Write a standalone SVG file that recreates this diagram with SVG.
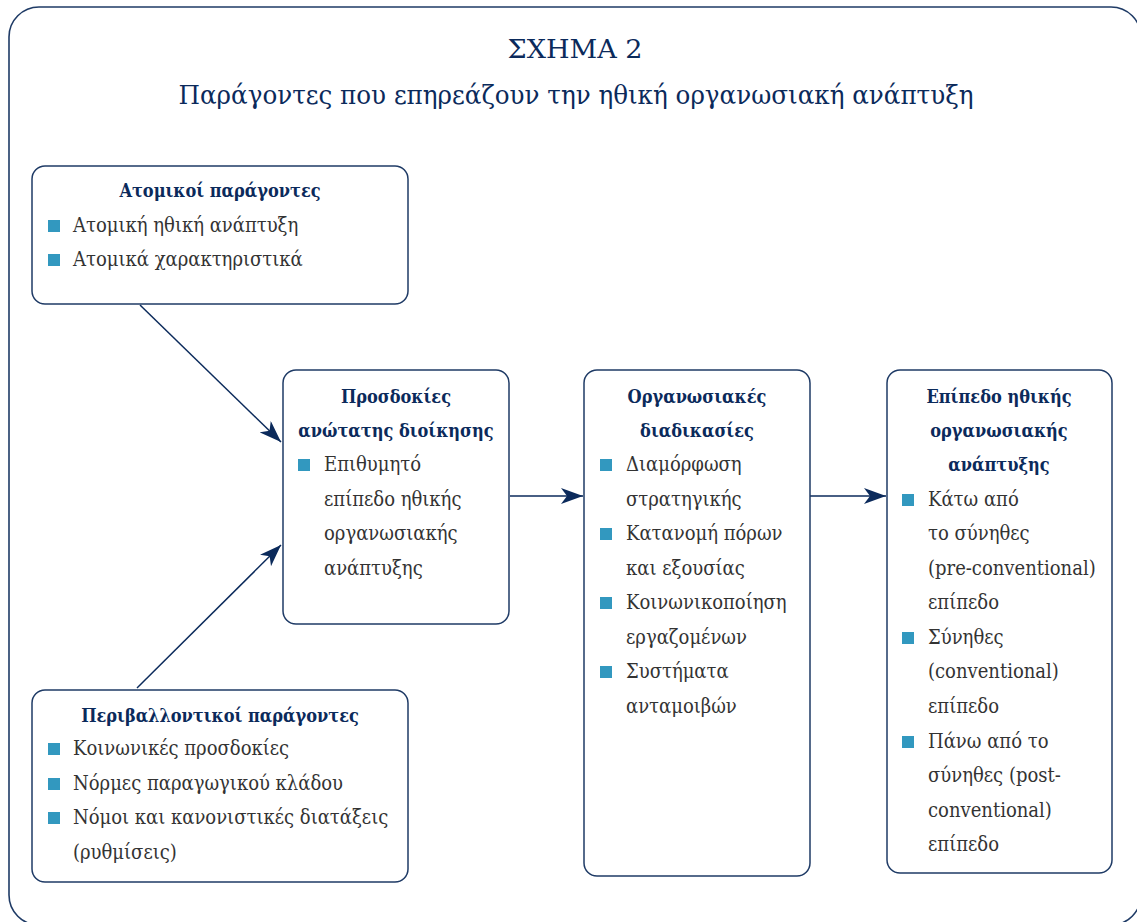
<svg xmlns="http://www.w3.org/2000/svg" width="1137" height="922" viewBox="0 0 1137 922">
<style>
.frame{fill:#fff;stroke:#1f3b66;stroke-width:1.6}
.box{fill:#fff;stroke:#1f3b66;stroke-width:1.5}
.title{font-family:"DejaVu Serif Condensed","DejaVu Serif",serif;font-stretch:condensed;fill:#0b2a5b;text-anchor:middle}
.head{font-family:"DejaVu Serif Condensed","DejaVu Serif",serif;font-stretch:condensed;font-weight:bold;font-size:18px;fill:#0b2a5b;text-anchor:middle}
.txt{font-family:"DejaVu Serif Condensed","DejaVu Serif",serif;font-stretch:condensed;font-size:20px;fill:#333}
.bul{fill:#3298bf}
.con{stroke:#0b2a5b;stroke-width:1.5;fill:none}
</style>
<defs>
<marker id="ah" markerWidth="24" markerHeight="16" refX="22" refY="8" orient="auto" markerUnits="userSpaceOnUse">
<path d="M0,0 L22,8 L0,16 L6,8 Z" fill="#0b2a5b"/>
</marker>
</defs>
<rect width="1137" height="922" fill="#fff"/>
<rect class="frame" x="9" y="7" width="1132" height="918" rx="30" ry="30"/>
<text class="title" x="575" y="58" font-size="26" textLength="135" lengthAdjust="spacingAndGlyphs">ΣΧΗΜΑ 2</text>
<text class="title" x="576" y="104" font-size="26" textLength="795" lengthAdjust="spacingAndGlyphs">Παράγοντες που επηρεάζουν την ηθική οργανωσιακή ανάπτυξη</text>

<g id="connectors">
<line class="con" x1="140" y1="305" x2="281" y2="442" marker-end="url(#ah)"/>
<line class="con" x1="137" y1="688" x2="281" y2="545" marker-end="url(#ah)"/>
<line class="con" x1="510" y1="496" x2="583" y2="496" marker-end="url(#ah)"/>
<line class="con" x1="810" y1="496" x2="886" y2="496" marker-end="url(#ah)"/>
</g>

<g id="atomikoi">
<rect class="box" x="32" y="166" width="376" height="138" rx="13"/>
<text class="head" x="220" y="197">Ατομικοί παράγοντες</text>
<rect class="bul" x="48" y="220" width="12" height="12"/>
<text class="txt" x="73" y="232">Ατομική ηθική ανάπτυξη</text>
<rect class="bul" x="48" y="254" width="12" height="12"/>
<text class="txt" x="73" y="266">Ατομικά χαρακτηριστικά</text>
</g>

<g id="periballontikoi">
<rect class="box" x="32" y="690" width="376" height="192" rx="13"/>
<text class="head" x="220" y="722">Περιβαλλοντικοί παράγοντες</text>
<rect class="bul" x="48" y="743" width="12" height="12"/>
<text class="txt" x="73" y="755">Κοινωνικές προσδοκίες</text>
<rect class="bul" x="48" y="778" width="12" height="12"/>
<text class="txt" x="73" y="790">Νόρμες παραγωγικού κλάδου</text>
<rect class="bul" x="48" y="812" width="12" height="12"/>
<text class="txt" x="73" y="824">Νόμοι και κανονιστικές διατάξεις</text>
<text class="txt" x="73" y="859">(ρυθμίσεις)</text>
</g>

<g id="prosdokies">
<rect class="box" x="283" y="370" width="226" height="254" rx="13"/>
<text class="head" x="396" y="403">Προσδοκίες</text>
<text class="head" x="396" y="437">ανώτατης διοίκησης</text>
<rect class="bul" x="298" y="459" width="12" height="12"/>
<text class="txt" x="324" y="471">Επιθυμητό</text>
<text class="txt" x="324" y="506">επίπεδο ηθικής</text>
<text class="txt" x="324" y="540">οργανωσιακής</text>
<text class="txt" x="324" y="575">ανάπτυξης</text>
</g>

<g id="diadikasies">
<rect class="box" x="584" y="370" width="226" height="506" rx="13"/>
<text class="head" x="697" y="403">Οργανωσιακές</text>
<text class="head" x="697" y="437">διαδικασίες</text>
<rect class="bul" x="600" y="459" width="12" height="12"/>
<text class="txt" x="626" y="471">Διαμόρφωση</text>
<text class="txt" x="626" y="506">στρατηγικής</text>
<rect class="bul" x="600" y="528" width="12" height="12"/>
<text class="txt" x="626" y="540">Κατανομή πόρων</text>
<text class="txt" x="626" y="575">και εξουσίας</text>
<rect class="bul" x="600" y="597" width="12" height="12"/>
<text class="txt" x="626" y="609">Κοινωνικοποίηση</text>
<text class="txt" x="626" y="644">εργαζομένων</text>
<rect class="bul" x="600" y="666" width="12" height="12"/>
<text class="txt" x="626" y="678">Συστήματα</text>
<text class="txt" x="626" y="713">ανταμοιβών</text>
</g>

<g id="epipedo">
<rect class="box" x="887" y="370" width="225" height="503" rx="13"/>
<text class="head" x="999" y="403">Επίπεδο ηθικής</text>
<text class="head" x="999" y="437">οργανωσιακής</text>
<text class="head" x="999" y="471">ανάπτυξης</text>
<rect class="bul" x="902" y="494" width="12" height="12"/>
<text class="txt" x="928" y="506">Κάτω από</text>
<text class="txt" x="928" y="540">το σύνηθες</text>
<text class="txt" x="928" y="575">(pre-conventional)</text>
<text class="txt" x="928" y="609">επίπεδο</text>
<rect class="bul" x="902" y="632" width="12" height="12"/>
<text class="txt" x="928" y="644">Σύνηθες</text>
<text class="txt" x="928" y="678">(conventional)</text>
<text class="txt" x="928" y="713">επίπεδο</text>
<rect class="bul" x="902" y="736" width="12" height="12"/>
<text class="txt" x="928" y="748">Πάνω από το</text>
<text class="txt" x="928" y="782">σύνηθες (post-</text>
<text class="txt" x="928" y="817">conventional)</text>
<text class="txt" x="928" y="851">επίπεδο</text>
</g>
</svg>
